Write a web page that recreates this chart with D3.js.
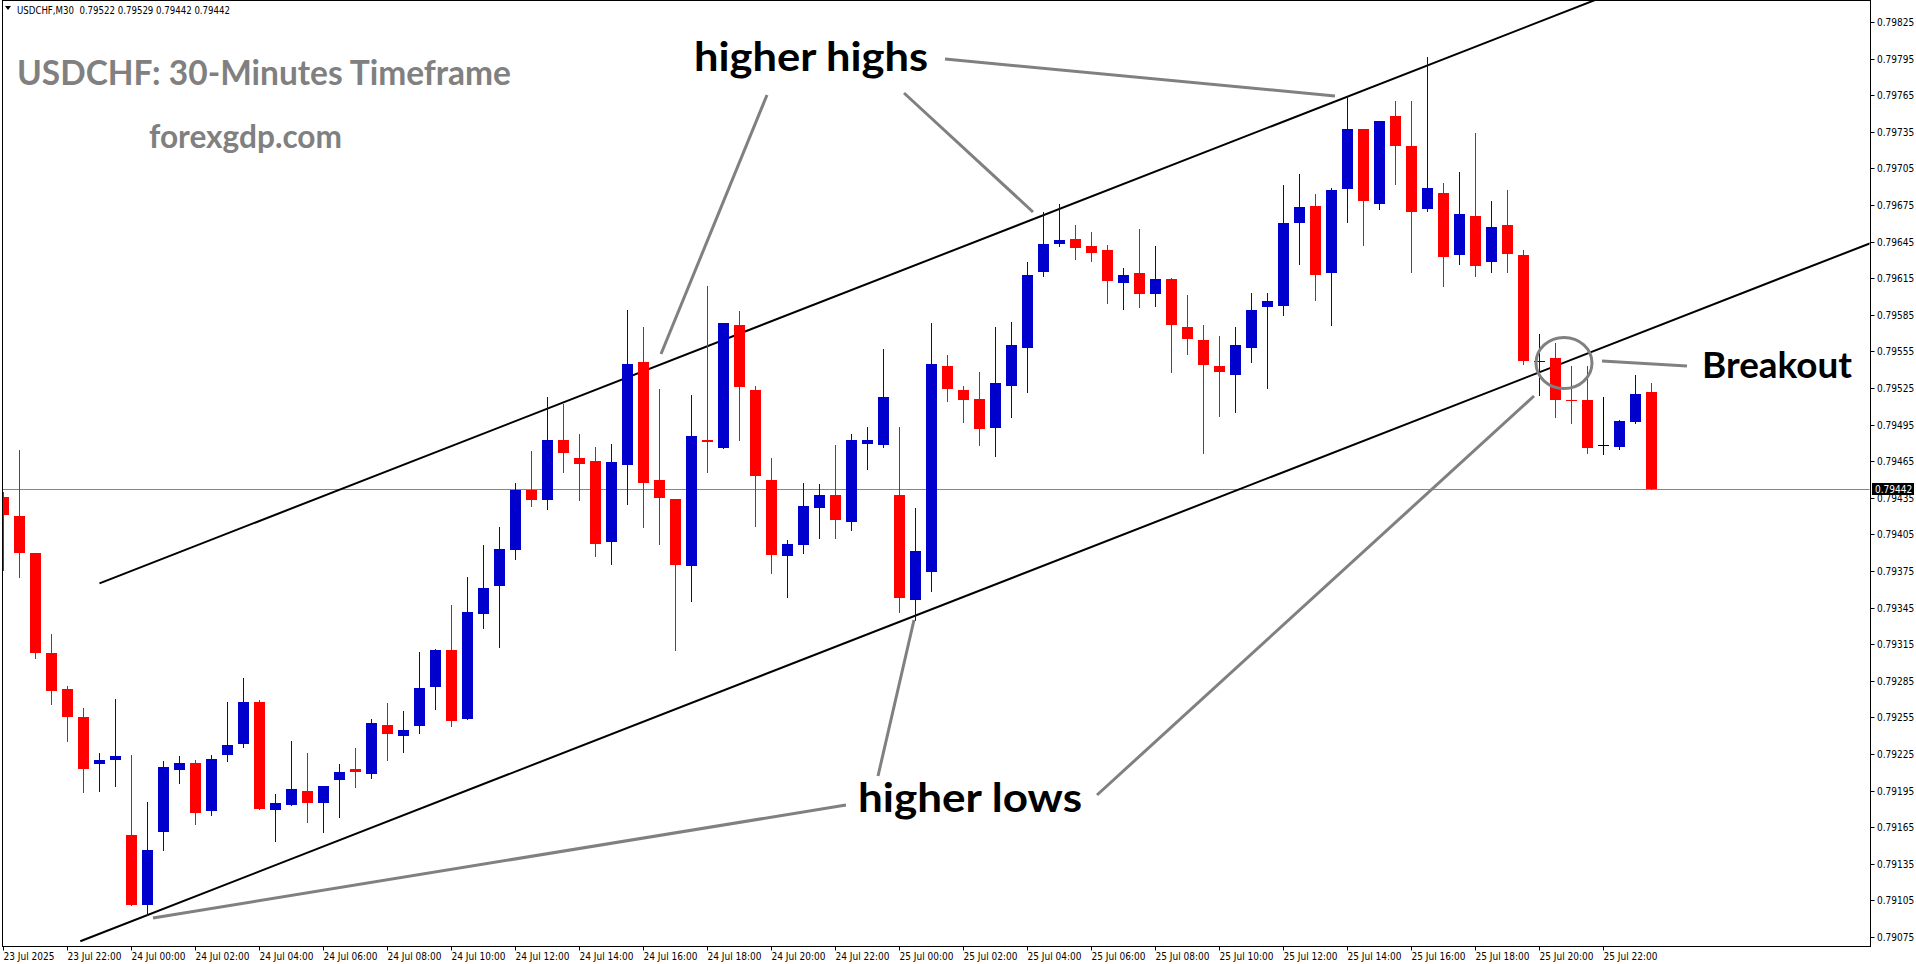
<!DOCTYPE html>
<html><head><meta charset="utf-8">
<script src="https://cdn.jsdelivr.net/npm/d3@7"></script>
<style>body{margin:0;background:#fff;overflow:hidden}</style>
</head><body>
<svg id="c" width="1916" height="964"></svg>
<script>
// ---- data (USDCHF M30, 23 Jul 2025 20:00 -> 25 Jul 2025 23:30) ----
const opens  = [0.79436,0.79420,0.79390,0.79308,0.79278,0.79255,0.79217,0.79220,0.79159,0.79101,
                0.79161,0.79212,0.79218,0.79178,0.79224,0.79233,0.79268,0.79179,0.79183,0.79195,
                0.79185,0.79204,0.79213,0.79209,0.79249,0.79240,0.79248,0.79280,0.79310,0.79254,
                0.79340,0.79363,0.79392,0.79441,0.79433,0.79482,0.79468,0.79465,0.79399,0.79462,
                0.79546,0.79450,0.79434,0.79379,0.79482,0.79476,0.79577,0.79523,0.79450,0.79387,
                0.79396,0.79427,0.79437,0.79415,0.79479,0.79478,0.79437,0.79351,0.79374,0.79543,
                0.79523,0.79516,0.79492,0.79527,0.79558,0.79620,0.79643,0.79647,0.79641,0.79638,
                0.79611,0.79619,0.79602,0.79614,0.79575,0.79564,0.79543,0.79536,0.79558,0.79591,
                0.79592,0.79660,0.79674,0.79619,0.79688,0.79737,0.79676,0.79748,0.79723,0.79672,
                0.79685,0.79634,0.79666,0.79628,0.79659,0.79634,0.79546,0.79550,0.79515,0.79515,
                0.79478,0.79477,0.79497,0.79522];
const highs  = [0.79440,0.79474,0.79390,0.79323,0.79281,0.79263,0.79226,0.79270,0.79224,0.79186,
                0.79219,0.79223,0.79220,0.79224,0.79268,0.79287,0.79269,0.79192,0.79236,0.79226,
                0.79199,0.79217,0.79230,0.79254,0.79267,0.79260,0.79309,0.79311,0.79347,0.79370,
                0.79396,0.79411,0.79447,0.79473,0.79518,0.79512,0.79487,0.79477,0.79479,0.79589,
                0.79575,0.79524,0.79434,0.79519,0.79609,0.79578,0.79588,0.79527,0.79468,0.79400,
                0.79447,0.79446,0.79478,0.79487,0.79493,0.79557,0.79493,0.79427,0.79578,0.79552,
                0.79527,0.79538,0.79575,0.79579,0.79628,0.79669,0.79676,0.79659,0.79653,0.79642,
                0.79623,0.79655,0.79641,0.79615,0.79601,0.79577,0.79568,0.79575,0.79603,0.79603,
                0.79691,0.79700,0.79684,0.79689,0.79764,0.79737,0.79744,0.79760,0.79760,0.79796,
                0.79693,0.79702,0.79734,0.79678,0.79687,0.79638,0.79569,0.79562,0.79543,0.79543,
                0.79518,0.79499,0.79536,0.79529];
const lows   = [0.79376,0.79370,0.79304,0.79266,0.79236,0.79194,0.79195,0.79199,0.79101,0.79093,
                0.79146,0.79201,0.79168,0.79175,0.79219,0.79231,0.79180,0.79154,0.79183,0.79169,
                0.79161,0.79173,0.79198,0.79205,0.79220,0.79227,0.79242,0.79262,0.79248,0.79254,
                0.79328,0.79313,0.79385,0.79428,0.79426,0.79456,0.79433,0.79387,0.79381,0.79430,
                0.79411,0.79397,0.79310,0.79350,0.79456,0.79476,0.79482,0.79412,0.79373,0.79354,
                0.79390,0.79402,0.79402,0.79409,0.79459,0.79477,0.79341,0.79335,0.79359,0.79514,
                0.79497,0.79478,0.79469,0.79501,0.79522,0.79617,0.79641,0.79631,0.79629,0.79595,
                0.79590,0.79591,0.79592,0.79538,0.79553,0.79472,0.79502,0.79505,0.79546,0.79525,
                0.79585,0.79627,0.79597,0.79577,0.79661,0.79642,0.79672,0.79692,0.79620,0.79670,
                0.79609,0.79627,0.79617,0.79620,0.79620,0.79545,0.79519,0.79501,0.79496,0.79472,
                0.79471,0.79475,0.79496,0.79442];
const closes = [0.79421,0.79390,0.79308,0.79277,0.79255,0.79213,0.79220,0.79223,0.79101,0.79146,
                0.79214,0.79218,0.79177,0.79221,0.79232,0.79268,0.79180,0.79185,0.79196,0.79185,
                0.79199,0.79210,0.79210,0.79250,0.79241,0.79245,0.79279,0.79310,0.79252,0.79341,
                0.79361,0.79393,0.79441,0.79433,0.79482,0.79472,0.79463,0.79397,0.79464,0.79545,
                0.79447,0.79435,0.79380,0.79486,0.79481,0.79578,0.79526,0.79453,0.79388,0.79397,
                0.79428,0.79437,0.79417,0.79482,0.79482,0.79518,0.79353,0.79391,0.79545,0.79524,
                0.79515,0.79491,0.79529,0.79560,0.79618,0.79643,0.79646,0.79640,0.79636,0.79613,
                0.79618,0.79602,0.79614,0.79577,0.79565,0.79544,0.79538,0.79560,0.79589,0.79596,
                0.79660,0.79673,0.79618,0.79687,0.79737,0.79678,0.79744,0.79723,0.79669,0.79689,
                0.79632,0.79668,0.79625,0.79657,0.79635,0.79547,0.79547,0.79515,0.79514,0.79476,
                0.79478,0.79498,0.79520,0.79442];
const xTickBars   = [0,4,8,12,16,20,24,28,32,36,40,44,48,52,56,60,64,68,72,76,80,84,88,92,96,100];
const xTickLabels = ["23 Jul 2025","23 Jul 22:00","24 Jul 00:00","24 Jul 02:00","24 Jul 04:00","24 Jul 06:00",
                     "24 Jul 08:00","24 Jul 10:00","24 Jul 12:00","24 Jul 14:00","24 Jul 16:00","24 Jul 18:00",
                     "24 Jul 20:00","24 Jul 22:00","25 Jul 00:00","25 Jul 02:00","25 Jul 04:00","25 Jul 06:00",
                     "25 Jul 08:00","25 Jul 10:00","25 Jul 12:00","25 Jul 14:00","25 Jul 16:00","25 Jul 18:00",
                     "25 Jul 20:00","25 Jul 22:00"];
const yTicks = [0.79825,0.79795,0.79765,0.79735,0.79705,0.79675,0.79645,0.79615,0.79585,0.79555,0.79525,
                0.79495,0.79465,0.79435,0.79405,0.79375,0.79345,0.79315,0.79285,0.79255,0.79225,0.79195,
                0.79165,0.79135,0.79105,0.79075];
const lastPrice = 0.79442;
// channel lines: [bar index, price] anchors
const upperChannel = [[6, 0.793649],[93, 0.798099]];
const lowerChannel = [[4.8, 0.790715],[93, 0.795226]];

// ---- layout ----
const W = 1916, H = 964;
const plot = {left: 2, right: 1870, top: 0, bottom: 946};
const svg = d3.select("#c");
svg.append("rect").attr("width", W).attr("height", H).attr("fill", "#fff");

const x = d3.scaleLinear().domain([0, 103]).range([3.5, 1651.5]);
const y = d3.scaleLinear().domain([0.79075, 0.79825]).range([937, 22]);

svg.append("clipPath").attr("id","pc").append("rect")
  .attr("x", plot.left+0.5).attr("y", plot.top+0.5)
  .attr("width", plot.right-plot.left-1).attr("height", plot.bottom-plot.top-1);
const g = svg.append("g").attr("clip-path","url(#pc)");

// last price line
g.append("line").attr("x1", plot.left).attr("x2", plot.right)
  .attr("y1", Math.round(y(lastPrice))+0.5).attr("y2", Math.round(y(lastPrice))+0.5)
  .attr("stroke", "#778899").attr("stroke-width", 1);

// channel lines (rays to the right)
function ray(a){
  const [p1,p2] = a;
  const slope = (p2[1]-p1[1])/(p2[0]-p1[0]);
  const xe = 130;
  return [[x(p1[0]), y(p1[1])],[x(xe), y(p1[1]+slope*(xe-p1[0]))]];
}
[upperChannel, lowerChannel].forEach(a => {
  const r = ray(a);
  g.append("line").attr("x1", r[0][0]).attr("y1", r[0][1]).attr("x2", r[1][0]).attr("y2", r[1][1])
    .attr("stroke", "#000").attr("stroke-width", 2);
});

// candles
const bars = d3.range(opens.length).map(i => ({i, o: opens[i], h: highs[i], l: lows[i], c: closes[i]}));
const color = d => d.c > d.o ? "#0000CD" : (d.c < d.o ? "#FF0000" : "#000");
const cg = g.append("g");
cg.selectAll("line.w").data(bars).join("line").attr("class","w")
  .attr("x1", d => x(d.i)).attr("x2", d => x(d.i))
  .attr("y1", d => Math.round(y(d.h))).attr("y2", d => Math.round(y(d.l))+1)
  .attr("stroke", color).attr("stroke-width", 1);
cg.selectAll("rect.b").data(bars).join("rect").attr("class","b")
  .attr("x", d => x(d.i)-5.5).attr("width", 11)
  .attr("y", d => Math.round(y(Math.max(d.o,d.c))))
  .attr("height", d => Math.max(1, Math.round(y(Math.min(d.o,d.c))) - Math.round(y(Math.max(d.o,d.c)))))
  .attr("fill", color);

// annotations
const grey = "#808080";
const ann = g.append("g").attr("stroke", grey).attr("stroke-width", 3).attr("stroke-linecap","butt");
const annLines = [
  [767,95,661,354],[904,93,1033,212],[945,59,1335,96],
  [846,805,153,918],[878,776,914,620],[1097,795,1534,396],[1602,361,1687,366]
];
annLines.forEach(l => ann.append("line").attr("x1",l[0]).attr("y1",l[1]).attr("x2",l[2]).attr("y2",l[3]));
g.append("ellipse").attr("cx",1564).attr("cy",363).attr("rx",28).attr("ry",25.5)
  .attr("fill","none").attr("stroke",grey).attr("stroke-width",3);

const fontBold = "Lato, 'Open Sans', sans-serif";
function label(t, x0, base, w, size, fill){
  svg.append("text").attr("x", x0).attr("y", base).text(t)
    .attr("font-family", fontBold).attr("font-weight", 700).attr("font-size", size)
    .attr("fill", fill).attr("textLength", w).attr("lengthAdjust","spacingAndGlyphs");
}
label("higher highs", 694, 71, 234, 40, "#000");
label("higher lows", 858, 812, 224, 40, "#000");
label("Breakout", 1702, 378, 150, 37, "#000");
label("USDCHF: 30-Minutes Timeframe", 17, 85, 494, 34, grey);
label("forexgdp.com", 149, 148, 193, 33, grey);

// header
svg.append("path").attr("d","M5,6 L11,6 L8,10 Z").attr("fill","#000");
svg.append("text").attr("x",17).attr("y",14).text("USDCHF,M30  0.79522 0.79529 0.79442 0.79442")
  .attr("font-family","'DejaVu Sans', sans-serif").attr("font-size",10).attr("fill","#000")
  .attr("textLength",213).attr("lengthAdjust","spacingAndGlyphs").attr("xml:space","preserve");

// plot border
svg.append("rect").attr("x", plot.left+0.5).attr("y", plot.top+0.5)
  .attr("width", plot.right-plot.left).attr("height", plot.bottom-plot.top)
  .attr("fill","none").attr("stroke","#000").attr("stroke-width",1);

// y axis (right)
const ya = svg.append("g").attr("font-family","'DejaVu Sans Condensed','DejaVu Sans',sans-serif").attr("font-size",10);
yTicks.forEach(v => {
  const yy = Math.round(y(v))+0.5;
  ya.append("line").attr("x1", plot.right+0.5).attr("x2", plot.right+4.5).attr("y1", yy).attr("y2", yy).attr("stroke","#000");
  ya.append("text").attr("x", plot.right+7).attr("y", yy+3.5).text(d3.format(".5f")(v)).attr("fill","#000");
});
// last price box
const ly = Math.round(y(lastPrice));
svg.append("rect").attr("x", plot.right+2).attr("y", ly-6).attr("width", 42).attr("height", 12).attr("fill","#000");
svg.append("text").attr("x", plot.right+5).attr("y", ly+4).text(d3.format(".5f")(lastPrice))
  .attr("font-family","'DejaVu Sans Condensed','DejaVu Sans',sans-serif").attr("font-size",10).attr("fill","#fff");

// x axis
const xa = svg.append("g").attr("font-family","'DejaVu Sans Condensed','DejaVu Sans',sans-serif").attr("font-size",10);
xTickBars.forEach((b, k) => {
  const xx = Math.floor(x(b))+0.5;
  xa.append("line").attr("x1", xx).attr("x2", xx).attr("y1", plot.bottom+0.5).attr("y2", plot.bottom+4.5).attr("stroke","#000");
  xa.append("text").attr("x", xx).attr("y", plot.bottom+14).text(xTickLabels[k]).attr("fill","#000");
});
</script>
</body></html>
